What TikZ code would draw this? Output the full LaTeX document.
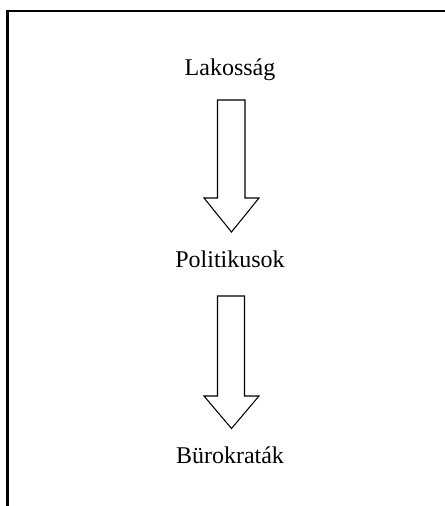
\documentclass[tikz,border=0pt]{standalone}
\usepackage{fontspec}
\setmainfont{Liberation Serif}
\begin{document}
\begin{tikzpicture}[x=0.75pt,y=-0.75pt,
  lbl/.style={font=\fontsize{18}{22}\selectfont, inner sep=0pt, anchor=base},
  blockarrow/.style={draw=black, line width=0.8pt, fill=white, line join=miter},
  frameline/.style={draw=black, line width=1.6pt}]
\useasboundingbox (0,0) rectangle (445,506);
% frame
\coordinate (fl) at (7.5,506);
\coordinate (fc) at (7.5,11);
\coordinate (fr) at (446,11);
\draw[frameline] (fl) -- (fc) -- (fr);
% labels
\node[lbl] (lak) at (230,76) {Lakosság};
\node[lbl] (pol) at (230,267) {Politikusok};
\node[lbl] (bur) at (230,463) {Bürokraták};
% arrow 1
\draw[blockarrow] (217.5,100) -- (245,100) -- (245,198) -- (259,198) -- (231.5,232)
  -- (204,198) -- (217.5,198) -- cycle;
% arrow 2
\draw[blockarrow] (217.5,296) -- (244.5,296) -- (244.5,396) -- (259,396) -- (231.5,428.5)
  -- (204,396) -- (217.5,396) -- cycle;
\end{tikzpicture}
\end{document}
